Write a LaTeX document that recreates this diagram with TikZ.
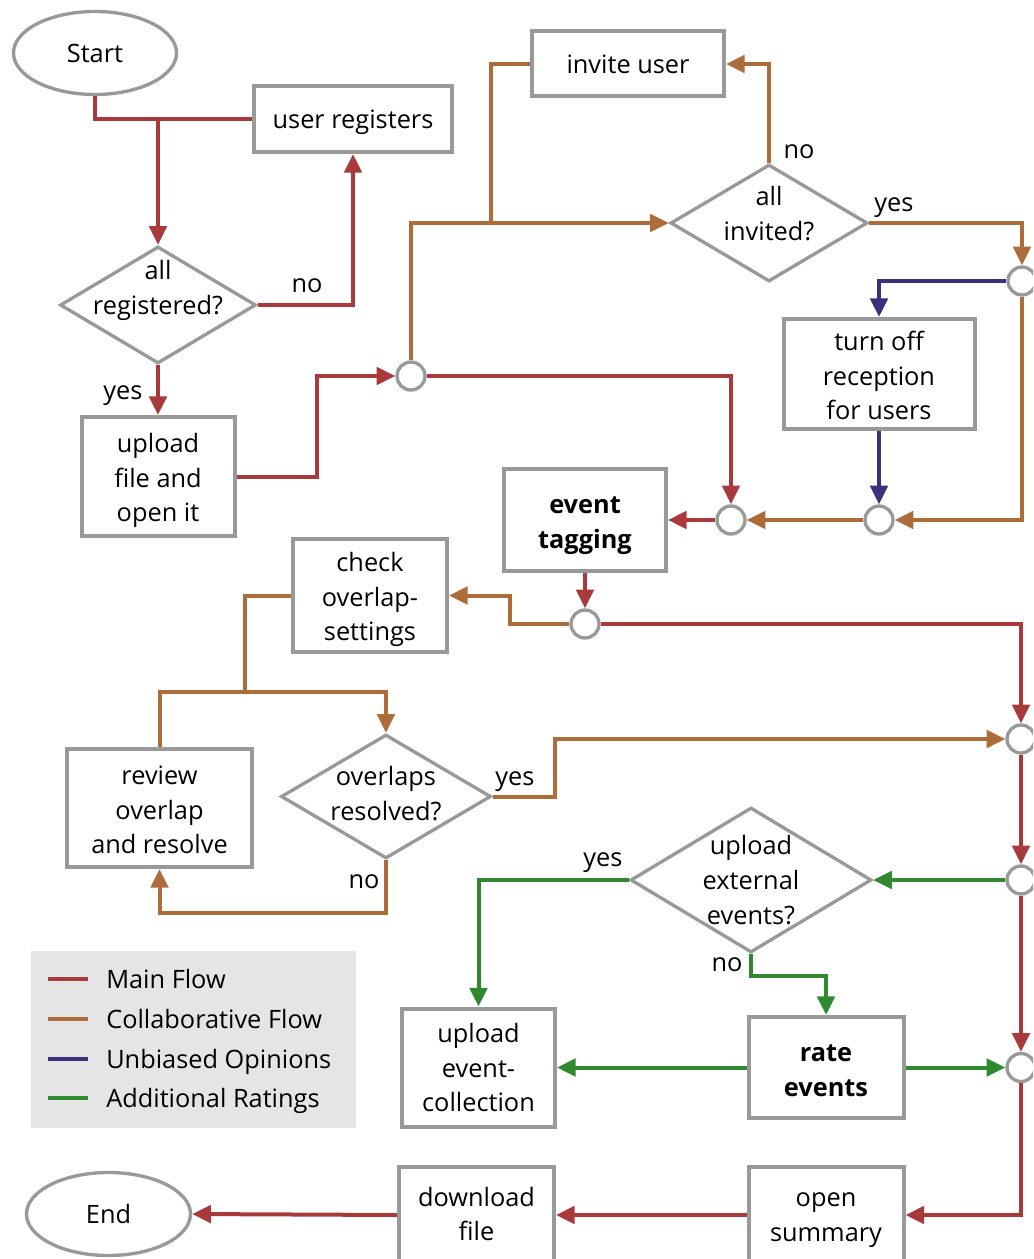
\documentclass[tikz,border=0pt]{standalone}
\usepackage{fontspec}
\setmainfont{Open Sans}
\usetikzlibrary{arrows.meta,shapes.geometric}
\definecolor{mainc}{HTML}{A83A3C}
\definecolor{collc}{HTML}{AD6D3B}
\definecolor{unbc}{HTML}{3C2F7C}
\definecolor{addc}{HTML}{2F8A2F}
\definecolor{bordc}{HTML}{999999}
\definecolor{legbg}{HTML}{E5E5E5}
\newcommand\dfont{\fontsize{19}{26}\selectfont}
\tikzset{
  box/.style={draw=bordc,line width=3pt,fill=white,inner sep=0pt},
  term/.style={ellipse,draw=bordc,line width=2.5pt,fill=white,font=\dfont,inner sep=0pt},
  dec/.style={diamond,draw=bordc,line width=2.5pt,fill=white,inner sep=0pt},
  junc/.style={circle,draw=bordc,line width=2.5pt,fill=white,minimum size=21pt,inner sep=0pt},
  lbl/.style={font=\dfont,inner sep=0pt,align=center},
  bold/.style={font=\dfont\bfseries},
  tip/.style={-{Triangle[length=14pt,width=13pt]}},
  mainl/.style={line width=3pt,color=mainc},
  colll/.style={line width=3pt,color=collc},
  unbl/.style={line width=3pt,color=unbc},
  addl/.style={line width=3pt,color=addc},
  mainf/.style={mainl,tip},
  collf/.style={colll,tip},
  unbf/.style={unbl,tip},
  addf/.style={addl,tip},
}
\begin{document}
\begin{tikzpicture}[x=0.75pt,y=-0.75pt]
\useasboundingbox (0,0) rectangle (1033,1259);
\clip (0,0) rectangle (1033,1259);

% legend
\node[fill=legbg,minimum width=243.75pt,minimum height=132.75pt,inner sep=0pt] (legend) at (193.5,1039.5) {};
\draw[mainl] (48,979) -- (88,979);
\draw[colll] (48,1019) -- (88,1019);
\draw[unbl] (48,1059) -- (88,1059);
\draw[addl] (48,1098) -- (88,1098);
\node[lbl,anchor=base west] (lg1) at (106,988) {Main Flow};
\node[lbl,anchor=base west] (lg2) at (106,1028) {Collaborative Flow};
\node[lbl,anchor=base west] (lg3) at (106,1068) {Unbiased Opinions};
\node[lbl,anchor=base west] (lg4) at (106,1107) {Additional Ratings};

% nodes
\node[term,minimum width=122.25pt,minimum height=62.25pt] (start) at (95,53) {Start};
\node[box,minimum width=148.5pt,minimum height=49.5pt,
  label={[lbl,yshift=-2.25pt]center:{user registers}}] (userreg) at (353,119) {};
\node[dec,minimum width=147pt,minimum height=87.75pt,
  label={[lbl,yshift=11pt]center:{all\\registered?}}] (allreg) at (158,305) {};
\node[box,minimum width=114.75pt,minimum height=89.25pt,
  label={[lbl,yshift=-3pt]center:{upload\\file and\\open it}}] (upload) at (158,476.5) {};
\node[junc] (c1) at (411,376) {};
\node[box,minimum width=144pt,minimum height=48.75pt,
  label={[lbl]center:{invite user}}] (invite) at (628,64) {};
\node[dec,minimum width=147.75pt,minimum height=87.75pt,
  label={[lbl,yshift=7pt]center:{all\\invited?}}] (allinv) at (769,223) {};
\node[junc] (r0) at (1022,281) {};
\node[box,minimum width=143.25pt,minimum height=82.5pt,
  label={[lbl,yshift=-1.1pt]center:{turn off\\reception\\for users}}] (turnoff) at (879,374) {};
\node[junc] (c2) at (731,520) {};
\node[junc] (c3) at (879,520) {};
\node[box,minimum width=121.5pt,minimum height=76.5pt,
  label={[lbl,bold,yshift=-4.1pt]center:{event\\tagging}}] (tag) at (585,520) {};
\node[junc] (c4) at (585,624) {};
\node[box,minimum width=115.5pt,minimum height=84.75pt,
  label={[lbl,yshift=-3pt]center:{check\\overlap-\\settings}}] (check) at (370,595.5) {};
\node[box,minimum width=138.75pt,minimum height=88.5pt,
  label={[lbl,yshift=-1.5pt]center:{review\\overlap\\and resolve}}] (review) at (159.5,808) {};
\node[dec,minimum width=157.5pt,minimum height=93pt,
  label={[lbl,yshift=2pt]center:{overlaps\\resolved?}}] (overl) at (386,796.5) {};
\node[junc] (r1) at (1021,739) {};
\node[junc] (r2) at (1021,880) {};
\node[junc] (r3) at (1021,1067.5) {};
\node[dec,minimum width=180.75pt,minimum height=108.75pt,
  label={[lbl]center:{upload\\external\\events?}}] (upext) at (751,880) {};
\node[box,minimum width=116.25pt,minimum height=75.75pt,
  label={[lbl,bold,yshift=-2.25pt]center:{rate\\events}}] (rate) at (826,1067.5) {};
\node[box,minimum width=114.75pt,minimum height=88.5pt,
  label={[lbl]center:{upload\\event-\\collection}}] (upcol) at (478.5,1067.5) {};
\node[box,minimum width=116.25pt,minimum height=72pt,
  label={[lbl,yshift=-3.75pt]center:{open\\summary}}] (summary) at (826,1215) {};
\node[box,minimum width=116.25pt,minimum height=72pt,
  label={[lbl,yshift=0.75pt]center:{download\\file}}] (download) at (476.5,1215) {};
\node[term,minimum width=123pt,minimum height=62.25pt] (end) at (108.5,1214) {End};

% labels
\node[lbl,anchor=base] (l1) at (307,292) {no};
\node[lbl,anchor=base] (l2) at (123,399) {yes};
\node[lbl,anchor=base] (l3) at (799,159) {no};
\node[lbl,anchor=base] (l4) at (894,211) {yes};
\node[lbl,anchor=base] (l5) at (515,785) {yes};
\node[lbl,anchor=base] (l6) at (364,888) {no};
\node[lbl,anchor=base] (l7) at (603,866) {yes};
\node[lbl,anchor=base] (l8) at (727,971) {no};

% main flow
\coordinate (j0) at (158,119);
\draw[mainl] (start.south) |- (userreg.west);
\draw[mainf] (j0) -- (allreg.north);
\draw[mainf] (allreg.east) -| (userreg.south);
\draw[mainf] (allreg.south) -- (upload.north);
\draw[mainf] (upload.east) -| (317,376) -- (c1.west);
\draw[mainf] (c1.east) -| (c2.north);
\draw[mainf] (c2.west) -- (tag.east);
\draw[mainf] (tag.south) -- (c4.north);
\draw[mainf] (c4.east) -| (r1.north);
\draw[mainf] (r1.south) -- (r2.north);
\draw[mainf] (r2.south) -- (r3.north);
\draw[mainf] (r3.south) |- (summary.east);
\draw[mainf] (summary.west) -- (download.east);
\draw[mainf] (download.west) -- (end.east);

% collaborative flow
\coordinate (j1) at (491,223);
\draw[collf] (c1.north) |- (allinv.west);
\draw[colll] (invite.west) -| (j1);
\draw[collf] (allinv.north) |- (invite.east);
\draw[collf] (allinv.east) -| (r0.north);
\draw[collf] (r0.south) |- (c3.east);
\draw[collf] (c3.west) -- (c2.east);
\draw[collf] (c4.west) -- (510,624) |- (check.east);
\coordinate (j2) at (245,692);
\draw[colll] (check.west) -| (j2);
\draw[collf] (review.north) |- (386,692) -- (overl.north);
\draw[collf] (overl.south) -- (386,913) -| (review.south);
\draw[collf] (overl.east) -- (555,796.5) |- (r1.west);

% unbiased opinions
\draw[unbf] (r0.west) -| (turnoff.north);
\draw[unbf] (turnoff.south) -- (c3.north);

% additional ratings
\draw[addf] (r2.west) -- (upext.east);
\draw[addf] (upext.west) -| (upcol.north);
\draw[addf] (upext.south) -- (751,976) -| (rate.north);
\draw[addf] (rate.west) -- (upcol.east);
\draw[addf] (rate.east) -- (r3.west);
\end{tikzpicture}
\end{document}
